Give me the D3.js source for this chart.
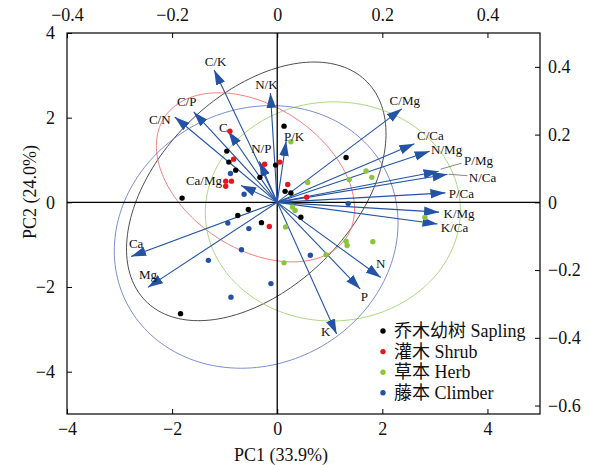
<!DOCTYPE html>
<html>
<head>
<meta charset="utf-8">
<script src="https://cdn.jsdelivr.net/npm/d3@7"></script>
<style>
  body { margin: 0; background: #fff; }
  text { font-family: "Liberation Serif", "Times New Roman", "Noto Sans CJK SC", serif; fill: #111; }
</style>
</head>
<body>
<script>
// PC1 / PC2 scores per group
const sapling = [[0.13,1.80],[-0.96,1.21],[-0.92,0.95],[-0.79,0.76],[-0.33,0.59],[-0.03,0.88],[-1.81,0.10],
  [0.15,0.26],[0.26,0.22],[-0.55,-0.17],[-0.75,-0.31],[-0.30,-0.48],[0.45,-0.35],[1.31,1.06],[-1.84,-2.63]];
const shrub = [[-0.90,1.68],[-0.83,1.02],[-0.24,0.90],[0.05,0.95],[-0.98,0.50],[-0.87,0.50],[-0.98,0.38],
  [0.20,0.42],[0.56,0.12],[-0.15,-0.57]];
const herb = [[0.26,1.43],[0.58,0.47],[1.37,0.54],[1.69,0.74],[1.80,0.59],[0.29,-0.11],[0.34,-0.19],
  [0.16,-0.58],[1.31,-0.92],[1.33,-1.02],[1.82,-0.93],[0.93,-1.24],[0.13,-1.43],[2.81,-0.36]];
const climber = [[-0.89,0.68],[-0.63,0.19],[-0.94,-0.49],[-0.54,-0.62],[-0.68,-1.12],[-1.31,-1.37],
  [-0.12,-1.92],[-0.88,-2.24],[1.35,-0.03],[0.63,-1.25]];

const groupNames = ["乔木幼树 Sapling", "灌木 Shrub", "草本 Herb", "藤本 Climber"];
const groupData = [sapling, shrub, herb, climber];
const groupColors = ["#000000", "#e5161d", "#8cc43c", "#2452a3"];
const ellipseColors = ["#3a3a3a", "#f07272", "#a3d474", "#6d80cf"];

// variable loadings (top / right axes)
const varNames = ["C","N","P","K","Ca","Mg","C/N","C/P","N/P","C/K","N/K","P/K",
  "C/Ca","N/Ca","P/Ca","K/Ca","C/Mg","N/Mg","P/Mg","K/Mg","Ca/Mg"];
const loadPC1 = [-0.093,0.197,0.158,0.113,-0.278,-0.246,-0.195,-0.159,-0.034,-0.120,-0.013,0.017,
  0.261,0.324,0.320,0.305,0.237,0.290,0.307,0.308,-0.069];
const loadPC2 = [0.210,-0.222,-0.256,-0.389,-0.160,-0.251,0.252,0.267,0.121,0.391,0.323,0.181,
  0.173,0.083,0.028,-0.064,0.276,0.151,0.092,-0.029,0.050];

const xTicks = [-4,-2,0,2,4], yTicks = [-4,-2,0,2,4];
const topTicks = [-0.4,-0.2,0,0.2,0.4], rightTicks = [-0.6,-0.4,-0.2,0,0.2,0.4];

// label nudges (px) from arrow tips
const labelNudge = {
  "C":[-5,-4],"N":[0,-14],"P":[4,7],"K":[-11,-3],"Ca":[5,-13],"Mg":[0,-13],
  "C/N":[-15,3],"C/P":[-7,-10],"N/P":[2,-13],"C/K":[1.5,-8],"N/K":[-4,-8],"P/K":[8,-5],
  "C/Ca":[16,-8],"N/Ca":[35,3],"P/Ca":[16,0.5],"K/Ca":[17,3.5],"C/Mg":[3,-8],
  "N/Mg":[17,-2],"P/Mg":[40,-11],"K/Mg":[20,1.5],"Ca/Mg":[-37,-5]
};
const leaders = {"P/Mg":[[2,-2],[23,-8]], "N/Ca":[[1,0],[20,1.5]]};

const margin = {top: 33, right: 49, bottom: 51, left: 67},
    W = 589, H = 465,
    w = W - margin.left - margin.right,
    h = H - margin.top - margin.bottom;

const svg = d3.select("body").append("svg")
  .attr("width", W).attr("height", H);

const g = svg.append("g").attr("transform", "translate(" + margin.left + "," + margin.top + ")");

const x = d3.scaleLinear().domain([-4, 5]).range([0, w]);
const y = d3.scaleLinear().domain([-5, 4]).range([h, 0]);
const xL = d3.scaleLinear().domain([-0.4, 0.5]).range([0, w]);
const yL = d3.scaleLinear().domain([-0.625, 0.5]).range([h, 0]);

svg.append("defs").append("clipPath").attr("id", "clip")
  .append("rect").attr("width", w).attr("height", h);

// 95% prediction ellipse of each group
function predEllipse(pts) {
  const n = pts.length;
  const mx = d3.mean(pts, d => d[0]), my = d3.mean(pts, d => d[1]);
  let sxx = 0, syy = 0, sxy = 0;
  pts.forEach(([a, b]) => { sxx += (a-mx)*(a-mx); syy += (b-my)*(b-my); sxy += (a-mx)*(b-my); });
  sxx /= n-1; syy /= n-1; sxy /= n-1;
  const nu = n - 2;
  const f = nu / 2 * (Math.pow(0.05, -2 / nu) - 1);
  const k = Math.sqrt(2 * (n-1) * (n+1) / (n * nu) * f);
  const tr = sxx + syy, det = sxx*syy - sxy*sxy;
  const disc = Math.sqrt(tr*tr/4 - det);
  const l1 = tr/2 + disc, l2 = tr/2 - disc;
  const th = Math.atan2(l1 - sxx, sxy);
  return d3.range(0, 360, 2).map(t => {
    const r = t * Math.PI / 180;
    const u = k * Math.sqrt(l1) * Math.cos(r), v = k * Math.sqrt(l2) * Math.sin(r);
    return [mx + u*Math.cos(th) - v*Math.sin(th), my + u*Math.sin(th) + v*Math.cos(th)];
  });
}

const line = d3.line().x(d => x(d[0])).y(d => y(d[1])).curve(d3.curveLinearClosed);
const plot = g.append("g").attr("clip-path", "url(#clip)");

plot.selectAll(".ellipse")
  .data(groupData)
  .enter().append("path")
  .attr("class", "ellipse")
  .attr("d", d => line(predEllipse(d)))
  .attr("fill", "none")
  .attr("stroke", (d, i) => ellipseColors[i])
  .attr("stroke-width", 0.9);

// zero lines
plot.append("line").attr("x1", x(0)).attr("x2", x(0)).attr("y1", 0).attr("y2", h)
  .attr("stroke", "#000").attr("stroke-width", 1.3);
plot.append("line").attr("x1", 0).attr("x2", w).attr("y1", y(0)).attr("y2", y(0))
  .attr("stroke", "#000").attr("stroke-width", 1.3);

// arrows
const arrowColor = "#2453a5";
svg.select("defs").append("marker")
  .attr("id", "head")
  .attr("markerUnits", "userSpaceOnUse")
  .attr("viewBox", "0 -5 16 10")
  .attr("refX", 15).attr("refY", 0)
  .attr("markerWidth", 16).attr("markerHeight", 10)
  .attr("orient", "auto")
  .append("path").attr("d", "M0,-4.8L15,0L0,4.8Z").attr("fill", arrowColor);

const vars = varNames.map((name, i) => ({name, l1: loadPC1[i], l2: loadPC2[i]}));

plot.selectAll(".arrow")
  .data(vars)
  .enter().append("line")
  .attr("class", "arrow")
  .attr("x1", xL(0)).attr("y1", yL(0))
  .attr("x2", d => xL(d.l1)).attr("y2", d => yL(d.l2))
  .attr("stroke", arrowColor).attr("stroke-width", 1.1)
  .attr("marker-end", "url(#head)");

// points
groupData.forEach((pts, i) => {
  plot.selectAll(".pt" + i)
    .data(pts)
    .enter().append("circle")
    .attr("cx", d => x(d[0])).attr("cy", d => y(d[1]))
    .attr("r", 2.7)
    .attr("fill", groupColors[i]);
});

// leader lines + variable labels
vars.filter(d => leaders[d.name]).forEach(d => {
  const [a, b] = leaders[d.name];
  g.append("line")
    .attr("x1", xL(d.l1) + a[0]).attr("y1", yL(d.l2) + a[1])
    .attr("x2", xL(d.l1) + b[0]).attr("y2", yL(d.l2) + b[1])
    .attr("stroke", "#555").attr("stroke-width", 0.7);
});

g.selectAll(".vlabel")
  .data(vars)
  .enter().append("text")
  .attr("class", "vlabel")
  .attr("x", d => xL(d.l1) + labelNudge[d.name][0])
  .attr("y", d => yL(d.l2) + labelNudge[d.name][1])
  .attr("text-anchor", "middle")
  .attr("dominant-baseline", "central")
  .style("font-size", "13px")
  .text(d => d.name);

// axes, ticks pointing in
const fmt = d => d === 0 ? "0" : d3.format(".1f")(d);
const fmtInt = d => d3.format("d")(d);

function styleAxis(sel) {
  sel.select(".domain").remove();
  sel.selectAll("text").style("font-size", "18px").attr("fill", "#111");
  sel.selectAll(".tick line").attr("stroke", "#000").attr("stroke-width", 1);
}

g.append("g").attr("transform", "translate(0," + h + ")")
  .call(d3.axisBottom(x).tickValues(xTicks).tickFormat(fmtInt).tickSize(-5).tickPadding(8))
  .call(styleAxis);
g.append("g")
  .call(d3.axisLeft(y).tickValues(yTicks).tickFormat(fmtInt).tickSize(-5).tickPadding(12))
  .call(styleAxis);
g.append("g")
  .call(d3.axisTop(xL).tickValues(topTicks).tickFormat(fmt).tickSize(-5).tickPadding(12))
  .call(styleAxis);
g.append("g").attr("transform", "translate(" + w + ",0)")
  .call(d3.axisRight(yL).tickValues(rightTicks).tickFormat(fmt).tickSize(-5).tickPadding(8))
  .call(styleAxis);

g.append("rect").attr("width", w).attr("height", h)
  .attr("fill", "none").attr("stroke", "#000").attr("stroke-width", 1.2);

// axis titles
svg.append("text")
  .attr("x", 281).attr("y", 461)
  .attr("text-anchor", "middle")
  .style("font-size", "18px")
  .text("PC1 (33.9%)");
svg.append("text")
  .attr("transform", "translate(36,192) rotate(-90)")
  .attr("text-anchor", "middle")
  .style("font-size", "18px")
  .text("PC2 (24.0%)");

// legend
const legend = svg.append("g").attr("transform", "translate(383,331)");
groupNames.forEach((name, i) => {
  const row = legend.append("g").attr("transform", "translate(0," + (i * 20.6) + ")");
  row.append("circle").attr("r", 2.7).attr("fill", groupColors[i]);
  row.append("text").attr("x", 11).attr("dominant-baseline", "central")
    .style("font-size", "18px").text(name);
});
</script>
</body>
</html>
